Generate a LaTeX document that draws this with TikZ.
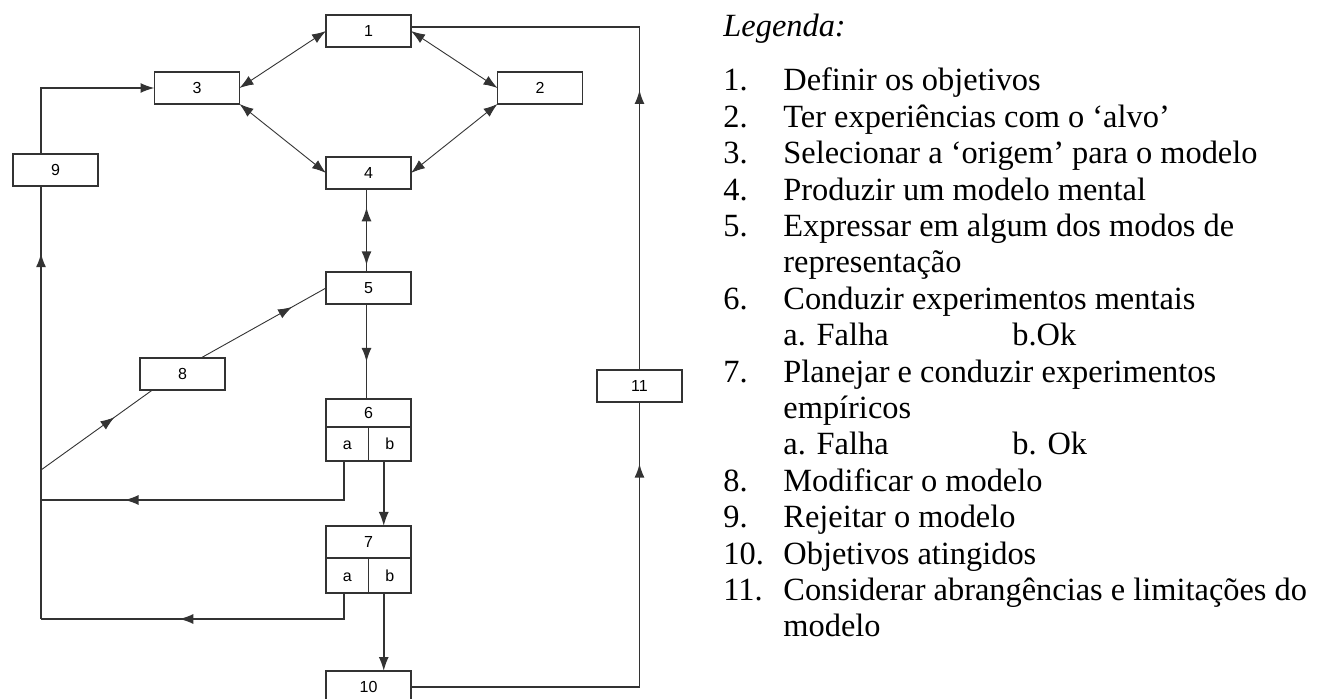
\documentclass[tikz,border=0pt]{standalone}
\usepackage{fontspec}
\setmainfont{Liberation Serif}
\newfontfamily\boxfont{Liberation Sans}
\usetikzlibrary{positioning, arrows.meta, decorations.markings}
\tikzset{>={Latex[length=7pt,width=5pt]}}
\tikzset{
    blok/.style={draw, line width=0.75pt, minimum width=42.5pt, minimum height=16pt,
        inner sep=0pt, outer sep=0pt, text height=5.7pt, text depth=0pt,
        font=\boxfont\fontsize{8}{9}\selectfont},
    halfblok/.style={blok, minimum width=21.25pt, minimum height=17pt, anchor=north west},
    flow/.style={line width=0.8pt},
    thinline/.style={line width=0.45pt},
    arrowat/.style={postaction={decorate, decoration={markings,
        mark=at position #1 with {\arrow{>}}}}},
    arrowback/.style={postaction={decorate, decoration={markings,
        mark=at position #1 with {\arrowreversed{>}}}}},
    legtext/.style={anchor=base west, inner sep=0pt, font=\fontsize{16.2}{18}\selectfont},
}

\begin{document}
\begin{tikzpicture}[x=0.5pt, y=-0.5pt, color=black!80, text=black]
    \useasboundingbox (0,0) rectangle (1317,699);

    % caixas do diagrama
    \node[blok] (s1) at (368.5,31) {1};
    \node[blok] (s2) at (540,88) {2};
    \node[blok] (s3) at (197,88) {3};
    \node[blok] (s4) at (368.5,173) {4};
    \node[blok] (s5) at (368.5,288) {5};
    \node[blok, minimum height=14pt] (s6) at (368.5,413) {6};
    \node[halfblok] (s6a) at (s6.south west) {a};
    \node[halfblok] (s6b) at (s6a.north east) {b};
    \node[blok] (s7) at (368.5,542) {7};
    \node[halfblok, minimum height=17.5pt] (s7a) at (s7.south west) {a};
    \node[halfblok, minimum height=17.5pt] (s7b) at (s7a.north east) {b};
    \node[blok] (s8) at (182.5,374) {8};
    \node[blok] (s9) at (55.5,170) {9};
    \node[blok] (s10) at (368.5,687) {10};
    \node[blok] (s11) at (639.5,386) {11};

    % trilho da esquerda
    \coordinate (railtop) at (41,88);
    \coordinate (rail8) at (41,470);
    \coordinate (rail6) at (41,500);
    \coordinate (railbot) at (41,619);

    % setas duplas
    \draw[thinline, <->] (s3.east) -- (s1.west);
    \draw[thinline, <->] (s3.south east) -- (s4.west);
    \draw[thinline, <->] (s1.east) -- (s2.west);
    \draw[thinline, <->] (s2.south west) -- (s4.east);
    \draw[flow, arrowback=0.22, arrowat=0.92] ([xshift=-1pt]s4.south) -- ([xshift=-1pt]s5.north);

    % fluxo principal
    \draw[flow, arrowat=0.61] ([xshift=-1pt]s5.south) -- ([xshift=-1pt]s6.north);
    \draw[flow, ->] ([xshift=-3pt]s6b.south) -- ([xshift=-3pt]s6b.south |- s7.north);
    \draw[flow, ->] ([xshift=-3pt]s7b.south) -- ([xshift=-3pt]s7b.south |- s10.north);
    \draw[flow, arrowat=0.88] (s10.east) -| (s11.south);
    \draw[flow, arrowat=0.49] (s11.north) |- ([yshift=2pt]s1.east);

    % falhas
    \draw[flow, arrowat=0.756] ([xshift=-1.5pt]s6a.south) |- (rail6);
    \draw[flow, arrowat=0.58] ([xshift=-1.5pt]s7a.south) |- (railbot);
    \draw[flow, arrowat=0.845] (railbot) -- (railtop |- s9.south);
    \draw[flow, ->] (railtop |- s9.north) -- (railtop) -- (s3.west);
    \draw[thinline, arrowat=0.66] (rail8) -- (s8.208);
    \draw[thinline, arrowat=0.73] (s8.41) -- (s5.west);

    % legenda
    \node[legtext, font=\fontsize{16.2}{18}\selectfont\itshape] (legtitle) at (723,37) {Legenda:};
    \foreach \num/\txt [count=\i from 0] in {
        1./Definir os objetivos,
        2./Ter experiências com o ‘alvo’,
        3./Selecionar a ‘origem’ para o modelo,
        4./Produzir um modelo mental,
        5./Expressar em algum dos modos de,
        /representação,
        6./Conduzir experimentos mentais,
        /a. Falha,
        7./Planejar e conduzir experimentos,
        /empíricos,
        /a. Falha,
        8./Modificar o modelo,
        9./Rejeitar o modelo,
        10./Objetivos atingidos,
        11./Considerar abrangências e limitações do,
        /modelo}
    {
        \node[legtext] (num\i) at (723,91+\i*36.4) {\num};
        \node[legtext] (txt\i) at (783,91+\i*36.4) {\txt};
    }
    \node[legtext] (ok6) at (1012,91+7*36.4) {b.Ok};
    \node[legtext] (ok7) at (1012,91+10*36.4) {b. Ok};
\end{tikzpicture}
\end{document}
